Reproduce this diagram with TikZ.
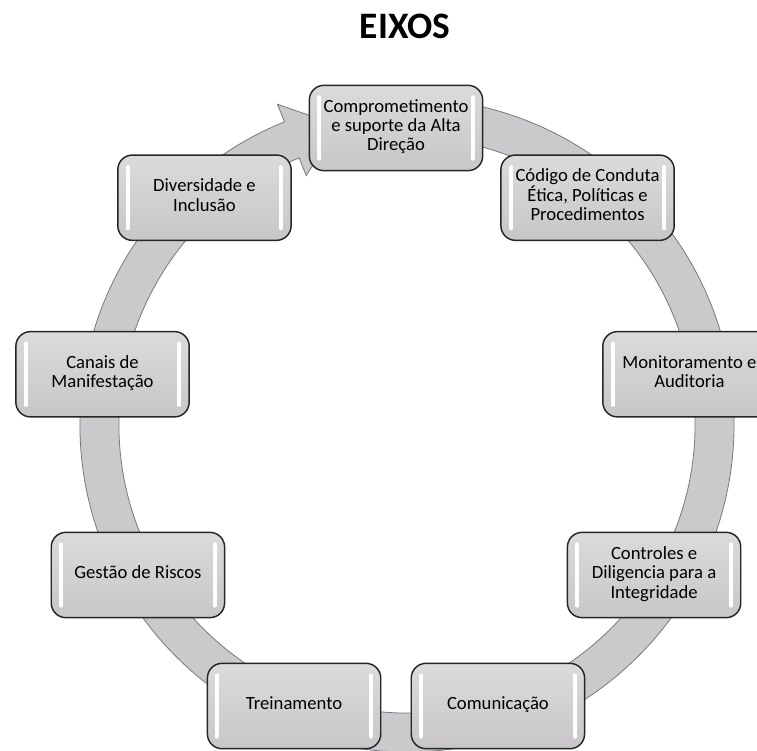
\documentclass[tikz,border=0pt]{standalone}
\usepackage{fontspec}
\setmainfont{Carlito}
\usepackage{tikz}

\definecolor{anel}{RGB}{202,202,204}
\definecolor{anelborda}{RGB}{120,120,128}
\definecolor{caixatopo}{RGB}{220,219,220}
\definecolor{caixabase}{RGB}{200,198,200}

\begin{document}
\begin{tikzpicture}[x=0.75pt,y=0.75pt,
  eixo/.style={rounded corners=11pt,draw=black!85,line width=1.1pt,
    top color=caixatopo,bottom color=caixabase,
    minimum width=130pt,minimum height=64pt,align=center,
    font=\fontsize{14pt}{14.6pt}\selectfont,
    execute at begin node=\strut,execute at end node=\strut,
    path picture={
      \draw[white,line width=3pt,line cap=round]
        ([xshift=7.5pt,yshift=-9pt]path picture bounding box.north west) --
        ([xshift=7.5pt,yshift=9pt]path picture bounding box.south west);
      \draw[white,line width=3pt,line cap=round]
        ([xshift=-7.5pt,yshift=-9pt]path picture bounding box.north east) --
        ([xshift=-7.5pt,yshift=9pt]path picture bounding box.south east);
    }}]
  \useasboundingbox (0,0) rectangle (757,750);

  \coordinate (anelc) at (407,325);
  \coordinate (centro) at (396,324);

  % circular arrow behind the boxes
  \fill[anel,draw=anelborda,line width=0.6pt]
    ([shift={(80:327)}]anelc) arc[start angle=80,end angle=-248,radius=327]
    -- ([shift={(112:346)}]anelc) -- ([shift={(103:307.5)}]anelc)
    -- ([shift={(112:269)}]anelc) -- ([shift={(112:288)}]anelc)
    arc[start angle=-248,end angle=80,radius=288] -- cycle;

  \node[font=\fontsize{28pt}{32pt}\selectfont\bfseries,anchor=base] (titulo) at (405,711) {EIXOS};

  \node[eixo] (comp) at ([shift={(90:298)}]centro) {Comprometimento\\e suporte da Alta\\Direção};
  \node[eixo] (codigo) at ([shift={(50:298)}]centro) {Código de Conduta\\Ética, Políticas e\\Procedimentos};
  \node[eixo] (monit) at ([shift={(10:298)}]centro) {Monitoramento e\\Auditoria};
  \node[eixo] (contr) at ([shift={(-30:298)}]centro) {Controles e\\Diligencia para a\\Integridade};
  \node[eixo] (comun) at ([shift={(-70:298)}]centro) {Comunicação};
  \node[eixo] (trein) at ([shift={(-110:298)}]centro) {Treinamento};
  \node[eixo] (gestao) at ([shift={(-150:298)}]centro) {Gestão de Riscos};
  \node[eixo] (canais) at ([shift={(170:298)}]centro) {Canais de\\Manifestação};
  \node[eixo] (divers) at ([shift={(130:298)}]centro) {Diversidade e\\Inclusão};
\end{tikzpicture}
\end{document}
